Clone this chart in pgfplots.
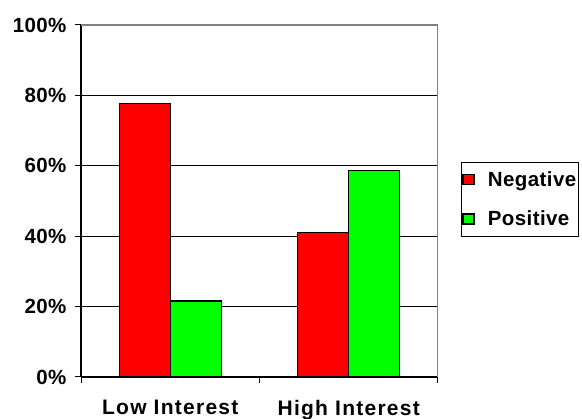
\documentclass[border=0pt]{standalone}
\usepackage{pgfplots}
\pgfplotsset{compat=1.18}
\usepackage{fontspec}
\setmainfont{Liberation Sans}
\newfontfamily\lsfont[LetterSpace=6]{Liberation Sans}
\newfontfamily\lsfontb[LetterSpace=2]{Liberation Sans}
\definecolor{barred}{HTML}{FF0000}
\definecolor{bargreen}{HTML}{00FF00}
\begin{document}
\begin{tikzpicture}[x=1pt,y=1pt]
\useasboundingbox (0,0) rectangle (582,419);
\begin{axis}[
  at={(81pt,42pt)}, anchor=south west,
  scale only axis, width=357pt, height=352pt,
  ybar=0pt, bar width=51pt,
  xmin=-0.5, xmax=1.5, ymin=0, ymax=100,
  xtick={-0.5,0.5,1.5},
  x tick label as interval,
  xticklabels={Low Interest, High Interest},
  ytick={0,20,40,60,80,100},
  yticklabel={\pgfmathprintnumber{\tick}\%},
  /pgf/number format/assume math mode=true,
  tick align=outside, major tick length=6pt,
  tick style={black, line width=1pt},
  axis x line*=bottom, axis y line*=left,
  axis line style={black, line width=1.2pt, -},
  ymajorgrids, grid style={black, line width=1pt},
  xticklabel style={font=\lsfont\fontsize{21}{24}\selectfont\bfseries, yshift=-14pt},
  yticklabel style={font=\lsfontb\fontsize{20.5}{24}\selectfont\bfseries, xshift=-5pt},
  legend style={
    at={(1.0636,0.611)}, anchor=north west,
    draw=black, line width=1.2pt,
    font=\lsfontb\fontsize{20.5}{24}\selectfont\bfseries,
    inner xsep=1pt, inner ysep=8pt,
    row sep=21pt,
    nodes={inner sep=1pt},
    legend cell align=left,
  },
  legend image code/.code={\draw[#1, draw=black, line width=1.2pt] (0pt,-5pt) rectangle (11pt,5pt); \path[draw=none, fill=none] (0pt,0pt) -- (24pt,0pt);},
]
\addplot[fill=barred, draw=black, line width=1.3pt] coordinates {(0,77.6) (1,41.0)};
\addlegendentry{Negative}
\addplot[fill=bargreen, draw=black, line width=1.3pt] coordinates {(0,21.6) (1,58.7)};
\addlegendentry{Positive}
\draw[gray, line width=1.2pt] (rel axis cs:0,1) -- (rel axis cs:1,1) -- (rel axis cs:1,0);
\end{axis}
\end{tikzpicture}
\end{document}
